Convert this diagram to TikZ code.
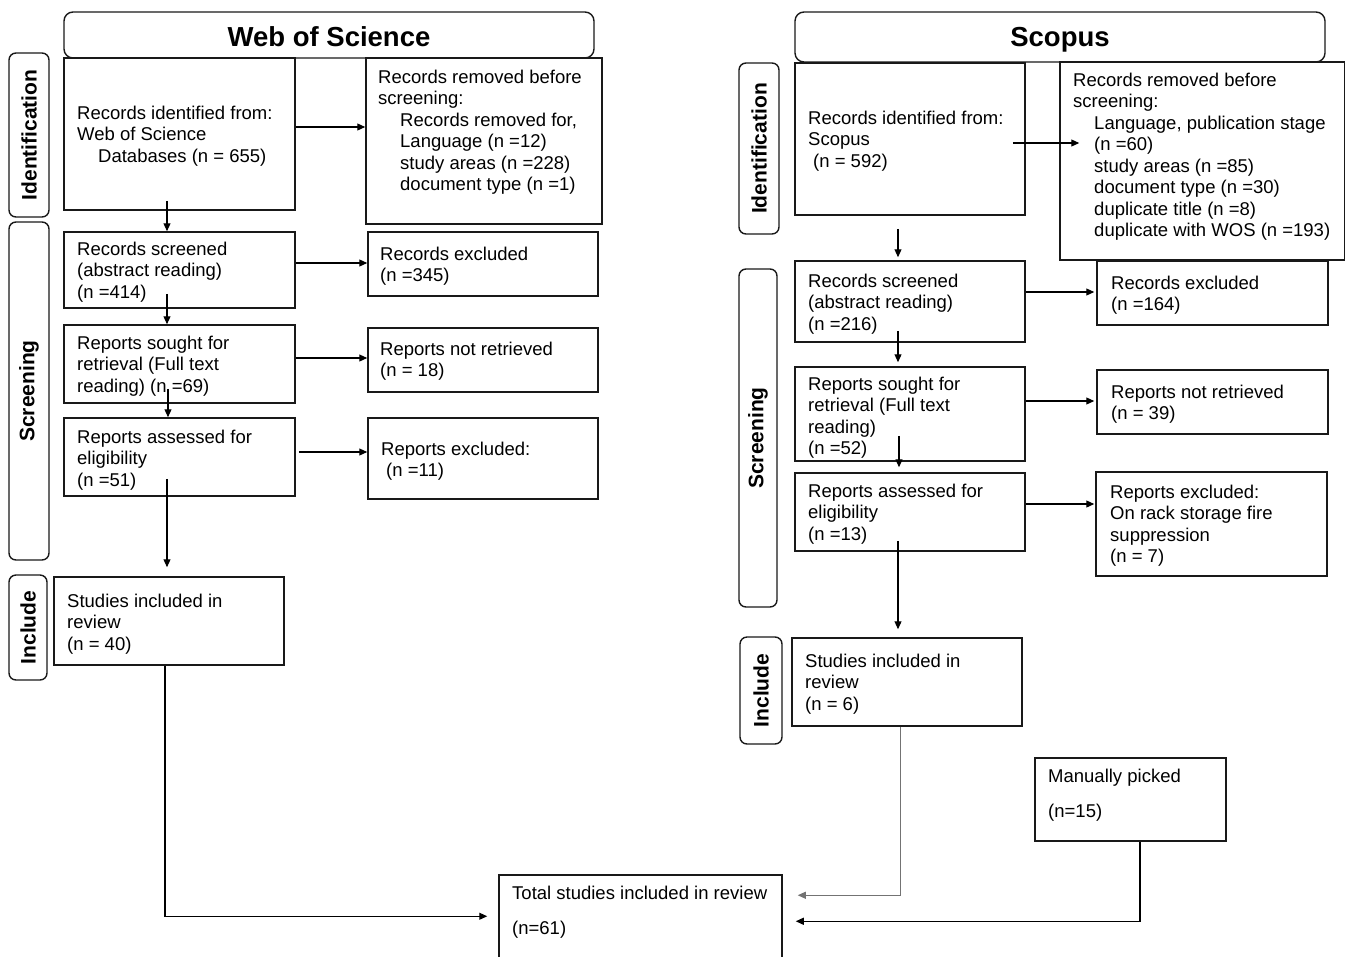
\documentclass[tikz,border=0pt]{standalone}
\usepackage{fontspec}
\setmainfont{Liberation Sans}
\usetikzlibrary{arrows.meta,fit,calc}
\begin{document}
\begin{tikzpicture}[x=1pt,y=-1pt,
 box/.style={draw=black!90, line width=1.5pt, inner sep=0pt},
 hdr/.style={draw=black!90, line width=1.4pt, rounded corners=9pt, inner sep=0pt},
 hdrtxt/.style={inner sep=0pt, font=\fontsize{27.5}{30}\selectfont\bfseries},
 side/.style={draw=black!90, line width=1.4pt, rounded corners=7pt, inner sep=0pt},
 sidetxt/.style={rotate=90, font=\fontsize{21}{24}\selectfont\bfseries, inner sep=0pt},
 txt/.style={anchor=north west, align=left, inner sep=0pt, font=\fontsize{18.5}{21.5}\selectfont},
 arr/.style={draw=black, line width=1.1pt, -{Triangle[length=8pt,width=7pt]}},
]
\useasboundingbox (0,0) rectangle (1346,956);

% ---------------- Web of Science ----------------
\node[hdr, fit={(64,12) (594,58)}] (wos) {};
\node[hdrtxt] (wos-t) at ([yshift=-2pt]wos.center) {Web of Science};
\node[side, fit={(9,53) (49,217)}] (idl) {};
\node[sidetxt] (idl-t) at (idl.center) {Identification};
\node[side, fit={(9,222) (49,560)}] (scl) {};
\node[sidetxt] (scl-t) at (scl.center) {Screening};
\node[side, fit={(9,575) (47,680)}] (inl) {};
\node[sidetxt] (inl-t) at (inl.center) {Include};

\node[box, fit={(64,58) (295,210)}] (idwos) {};
\node[txt] (idwos-t) at (77,104) {\strut Records identified from:\\Web of Science\\\hspace*{21pt}Databases (n = 655)};
\node[box, fit={(366,58) (602,224)}] (remwos) {};
\node[txt] (remwos-t) at (378,68) {\strut Records removed before\\screening:\\\hspace*{22pt}Records removed for,\\\hspace*{22pt}Language (n =12)\\\hspace*{22pt}study areas (n =228)\\\hspace*{22pt}document type (n =1)};
\node[box, fit={(64,232) (295,308)}] (scrwos) {};
\node[txt] (scrwos-t) at (77,240) {\strut Records screened\\(abstract reading)\\(n =414)};
\node[box, fit={(368,232) (598,296)}] (exc1) {};
\node[txt] (exc1-t) at (380,245) {\strut Records excluded\\(n =345)};
\node[box, fit={(64,325) (295,403)}] (sought) {};
\node[txt] (sought-t) at (77,334) {\strut Reports sought for\\retrieval (Full text\\reading) (n =69)};
\node[box, fit={(368,328) (598,392)}] (notret) {};
\node[txt] (notret-t) at (380,340) {\strut Reports not retrieved\\(n = 18)};
\node[box, fit={(64,418) (295,496)}] (assessed) {};
\node[txt] (assessed-t) at (77,428) {\strut Reports assessed for\\eligibility\\(n =51)};
\node[box, fit={(368,418) (598,499)}] (exc2) {};
\node[txt] (exc2-t) at (381,440) {\strut Reports excluded:\\\hspace*{5pt}(n =11)};
\node[box, fit={(54,577) (284,665)}] (incl) {};
\node[txt] (incl-t) at (67,592) {\strut Studies included in\\review\\(n = 40)};

% ---------------- Scopus ----------------
\node[hdr, fit={(795,12) (1325,62)}] (sco) {};
\node[hdrtxt] (sco-t) at ([yshift=-3pt]sco.center) {Scopus};
\node[side, fit={(739,63) (779,234)}] (idr) {};
\node[sidetxt] (idr-t) at (idr.center) {Identification};
\node[side, fit={(739,269) (777,607)}] (scr) {};
\node[sidetxt] (scr-t) at (scr.center) {Screening};
\node[side, fit={(740,637) (782,744)}] (inr) {};
\node[sidetxt] (inr-t) at (inr.center) {Include};

\node[box, fit={(795,63) (1025,215)}] (idsc) {};
\node[txt] (idsc-t) at (808,109) {\strut Records identified from:\\Scopus\\\hspace*{5pt}(n = 592)};
\node[box, fit={(1060,62) (1344.5,260)}] (remsc) {};
\node[txt] (remsc-t) at (1073,71) {\strut Records removed before\\screening:\\\hspace*{21pt}Language, publication stage\\\hspace*{21pt}(n =60)\\\hspace*{21pt}study areas (n =85)\\\hspace*{21pt}document type (n =30)\\\hspace*{21pt}duplicate title (n =8)\\\hspace*{21pt}duplicate with WOS (n =193)};
\node[box, fit={(795,261) (1025,342)}] (scrsc) {};
\node[txt] (scrsc-t) at (808,272) {\strut Records screened\\(abstract reading)\\(n =216)};
\node[box, fit={(1097,261) (1328,325)}] (exc3) {};
\node[txt] (exc3-t) at (1111,274) {\strut Records excluded\\(n =164)};
\node[box, fit={(795,367) (1025,461)}] (soughtsc) {};
\node[txt] (soughtsc-t) at (808,375) {\strut Reports sought for\\retrieval (Full text\\reading)\\(n =52)};
\node[box, fit={(1097,370) (1328,434)}] (notret2) {};
\node[txt] (notret2-t) at (1111,383) {\strut Reports not retrieved\\(n = 39)};
\node[box, fit={(795,473) (1025,551)}] (assessedsc) {};
\node[txt] (assessedsc-t) at (808,482) {\strut Reports assessed for\\eligibility\\(n =13)};
\node[box, fit={(1096,472) (1327,576)}] (exc4) {};
\node[txt] (exc4-t) at (1110,483) {\strut Reports excluded:\\On rack storage fire\\suppression\\(n = 7)};
\node[box, fit={(792,638) (1022,726)}] (inclsc) {};
\node[txt] (inclsc-t) at (805,652) {\strut Studies included in\\review\\(n = 6)};
\node[box, fit={(1035,758) (1226,841)}] (manual) {};
\node[txt] (manual-t) at (1048,767) {\strut Manually picked\\[13.5pt](n=15)};

% ---------------- Total ----------------
\node[box, fit={(499,875) (782,990)}] (total) {};
\node[txt] (total-t) at (512,884) {\strut Total studies included in review\\[13.5pt](n=61)};

% ---------------- connectors WoS ----------------
\draw[arr] ([xshift=-12.5pt,yshift=10pt]idwos.south) -- ([xshift=-12.5pt]scrwos.north);
\coordinate (a2s) at ([yshift=7pt]idwos.east);
\draw[arr] (a2s) -- (a2s -| remwos.west);
\coordinate (a3s) at ([yshift=7pt]scrwos.east);
\draw[arr] (a3s) -- (a3s -| exc1.west);
\draw[arr] ([xshift=-12.5pt,yshift=15pt]scrwos.south) -- ([xshift=-12.5pt]sought.north);
\coordinate (a5s) at ([yshift=6pt]sought.east);
\draw[arr] (a5s) -- (a5s -| notret.west);
\draw[arr] ([xshift=-11.5pt,yshift=15pt]sought.south) -- ([xshift=-11.5pt]assessed.north);
\coordinate (a7s) at ([xshift=3pt,yshift=5pt]assessed.east);
\draw[arr] (a7s) -- (a7s -| exc2.west);
\coordinate (a8s) at ([xshift=-12.5pt,yshift=18pt]assessed.south);
\draw[arr, shorten >=9pt] (a8s) -- (a8s |- incl.north);
\draw[arr] ([xshift=-4pt]incl.south) |- ([xshift=-11pt,yshift=-42pt]total.north west);

% ---------------- connectors Scopus ----------------
\coordinate (a10s) at ([xshift=-13pt,yshift=-4pt]idsc.east);
\coordinate (a10e) at (a10s -| remsc.west);
\draw[arr] (a10s) -- ([xshift=20pt]a10e);
\coordinate (a11s) at ([xshift=-12pt,yshift=-13pt]idsc.south);
\draw[arr, shorten >=3pt] (a11s) -- (a11s |- scrsc.north);
\coordinate (a12s) at ([yshift=9.5pt]scrsc.east);
\draw[arr, shorten >=2pt] (a12s) -- (a12s -| exc3.west);
\coordinate (a13s) at ([xshift=-12pt,yshift=12pt]scrsc.south);
\draw[arr, shorten >=4pt] (a13s) -- (a13s |- soughtsc.north);
\coordinate (a14s) at ([yshift=13pt]soughtsc.east);
\draw[arr, shorten >=2pt] (a14s) -- (a14s -| notret2.west);
\coordinate (a15s) at ([xshift=-11pt,yshift=26pt]soughtsc.south);
\draw[arr, shorten >=5pt] (a15s) -- (a15s |- assessedsc.north);
\coordinate (a16s) at ([yshift=8pt]assessedsc.east);
\draw[arr, shorten >=1pt] (a16s) -- (a16s -| exc4.west);
\coordinate (a17s) at ([xshift=-12pt,yshift=11pt]assessedsc.south);
\draw[arr, shorten >=8pt] (a17s) -- (a17s |- inclsc.north);
\draw[arr, draw=black!55, line width=0.8pt] ([xshift=-7pt]inclsc.south) |- ([xshift=15pt,yshift=-21pt]total.north east);
\draw[arr, line width=1.4pt] ([xshift=9.5pt]manual.south) |- ([xshift=13pt,yshift=-47pt]total.north east);
\end{tikzpicture}
\end{document}
